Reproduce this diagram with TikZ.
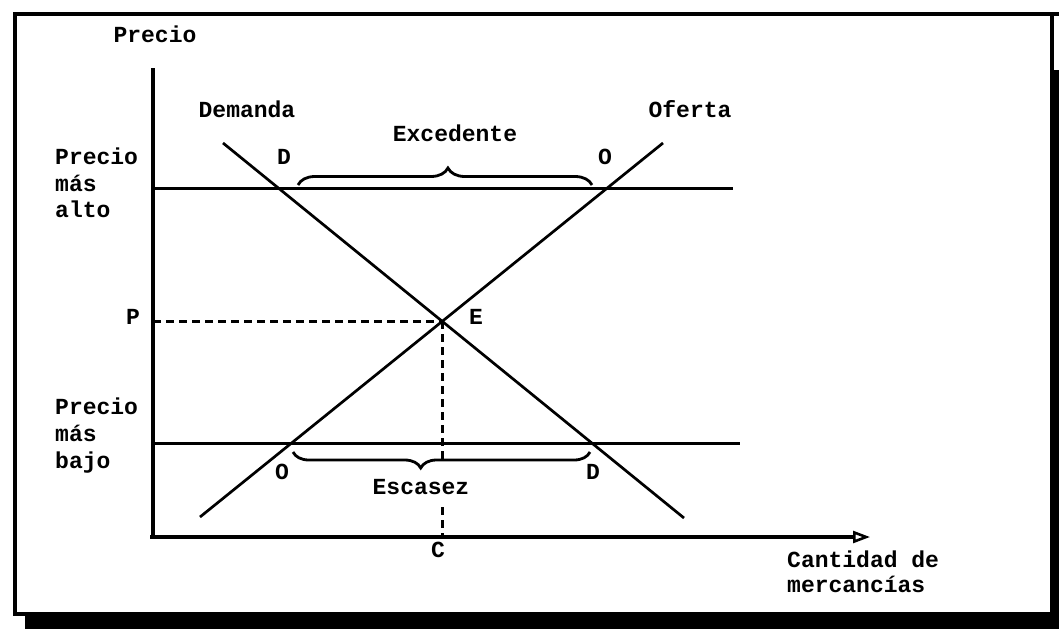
\documentclass[tikz,border=0pt]{standalone}
\usepackage{fontspec}
\setmainfont{Liberation Mono}
\usetikzlibrary{arrows.meta,decorations.pathreplacing}
\begin{document}
\begin{tikzpicture}[x=1pt,y=-1pt,
  lbl/.style={font=\fontsize{23}{26}\selectfont\bfseries, inner sep=0pt, text height=0.58em, text depth=0pt},
  curve/.style={line width=2.7pt},
  axis/.style={line width=3.2pt},
  guide/.style={line width=2.6pt, dash pattern=on 8pt off 5pt},
  bracestyle/.style={line width=2.8pt, decorate}]
\useasboundingbox (0,0) rectangle (1059,629);
% frame with shadow
\fill (25,614) rectangle (1059,629);
\fill (1052,70) rectangle (1059,629);
\draw[line width=3.2pt] (1052,14) -- (15,14) -- (15,614) -- (1052,614) -- (1052,14);
\draw[line width=3.2pt] (1052,14) -- (1059,14);
% coordinates
\coordinate (O0) at (153,537);
\coordinate (Ytop) at (153,68);
\coordinate (Xend) at (870,537);
\coordinate (Hl) at (153,188.5);
\coordinate (Hr) at (733,188.5);
\coordinate (Ll) at (153,443.5);
\coordinate (Lr) at (740,443.5);
\coordinate (Dtop) at (223,143);
\coordinate (Dbot) at (684,518);
\coordinate (Stop) at (663,143);
\coordinate (Sbot) at (200,517);
\coordinate (E) at (442.2,321.4);
\coordinate (Pax) at (153,321.4);
\coordinate (Cg1) at (442.2,464);
\coordinate (Cg2) at (442.2,507);
\coordinate (Cax) at (442.2,537);
\coordinate (B1a) at (298,185);
\coordinate (B1b) at (592,185);
\coordinate (B2a) at (293,452);
\coordinate (B2b) at (590,452);
% axes
\draw[axis] (Ytop) -- (O0);
\draw[axis, -{Triangle[open, length=17pt, width=12pt, line width=2.6pt]}] (150,537) -- (Xend);
% price lines
\draw[curve] (Hl) -- (Hr);
\draw[curve] (Ll) -- (Lr);
% demand and supply
\draw[curve] (Dtop) -- (Dbot);
\draw[curve] (Sbot) -- (Stop);
% dashed guides
\draw[guide] (Pax) -- (E);
\draw[guide] (E) -- (Cg1);
\draw[guide] (Cg2) -- (Cax);
% braces
\draw[bracestyle, decoration={brace, amplitude=17pt, aspect=0.51}] (B1a) -- (B1b);
\draw[bracestyle, decoration={brace, mirror, amplitude=16pt, aspect=0.43}] (B2a) -- (B2b);
% labels
\node[lbl] (tPrecio) at (155,40) {Precio};
\node[lbl] (tDem) at (247,115) {Demanda};
\node[lbl] (tOf) at (690,115) {Oferta};
\node[lbl] (tExc) at (455,139) {Excedente};
\node[lbl] (tD1) at (284,162) {D};
\node[lbl] (tO1) at (605,162) {O};
\node[lbl, anchor=west] (tA1) at (55,162) {Precio};
\node[lbl, anchor=west] (tA2) at (55,189) {más};
\node[lbl, anchor=west] (tA3) at (55,215) {alto};
\node[lbl] (tP) at (133,322) {P};
\node[lbl] (tE) at (476,322) {E};
\node[lbl, anchor=west] (tB1) at (55,412) {Precio};
\node[lbl, anchor=west] (tB2) at (55,439) {más};
\node[lbl, anchor=west] (tB3) at (55,466) {bajo};
\node[lbl] (tO2) at (282,477) {O};
\node[lbl] (tD2) at (593,477) {D};
\node[lbl] (tEsc) at (421,492) {Escasez};
\node[lbl] (tC) at (438,555) {C};
\node[lbl, anchor=west] (tX1) at (787,565) {Cantidad de};
\node[lbl, anchor=west] (tX2) at (787,590) {mercancías};
\end{tikzpicture}
\end{document}
